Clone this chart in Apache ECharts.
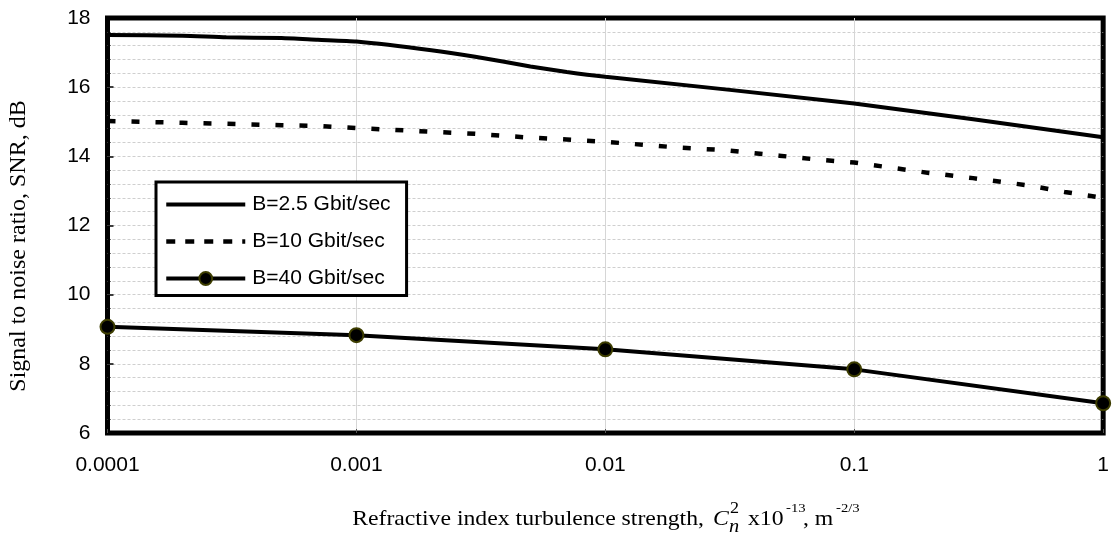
<!DOCTYPE html>
<html>
<head>
<meta charset="utf-8">
<script src="https://cdn.jsdelivr.net/npm/echarts@6/dist/echarts.min.js"></script>
<style>
  html, body { margin: 0; padding: 0; background: #fff; }
  #chart { width: 1112px; height: 539px; }
</style>
</head>
<body>
<div id="chart"></div>
<script>
// Turbulence strength Cn^2 (x10^-13 m^-2/3), log scale
const xTickLabels = ['0.0001', '0.001', '0.01', '0.1', '1'];

// B = 2.5 Gbit/sec
const x25 = [0.0001, 0.0002, 0.0003, 0.0005, 0.0007, 0.001, 0.002, 0.003, 0.005, 0.007, 0.01, 0.1, 1];
const snr25 = [17.51, 17.49, 17.44, 17.42, 17.37, 17.32, 17.07, 16.88, 16.60, 16.44, 16.30, 15.53, 14.55];

// B = 10 Gbit/sec
const x10 = [0.0001, 0.0002, 0.0003, 0.0005, 0.0007, 0.001, 0.002, 0.003, 0.005, 0.007,
             0.01, 0.02, 0.03, 0.05, 0.07, 0.1, 0.2, 0.3, 0.5, 0.7, 1];
const snr10 = [15.02, 14.97, 14.94, 14.90, 14.88, 14.82, 14.71, 14.65, 14.54, 14.49,
               14.42, 14.25, 14.18, 14.02, 13.91, 13.82, 13.52, 13.37, 13.16, 12.97, 12.80];

// B = 40 Gbit/sec
const x40 = [0.0001, 0.001, 0.01, 0.1, 1];
const snr40 = [9.07, 8.83, 8.42, 7.84, 6.86];

const seriesNames = ['B=2.5 Gbit/sec', 'B=10 Gbit/sec', 'B=40 Gbit/sec'];

const pairs = (xs, ys) => xs.map((x, i) => [x, ys[i]]);

const sans = '"Liberation Sans", Arial, sans-serif';
const serif = '"Liberation Serif", "Times New Roman", serif';
const noMarker = { color: 'rgba(0,0,0,0)', borderWidth: 0 };
const gridLine = { color: '#cfcfcf', width: 1, type: [3, 2] };

// pieces of the x-axis title, widened slightly
function xt(text, x, y, size, italic) {
  return {
    type: 'text', x: x, y: y, scaleX: 1.13,
    style: { text: text, font: (italic ? 'italic ' : '') + size + 'px ' + serif, fill: '#000',
             align: 'left', verticalAlign: 'middle' }
  };
}

const chart = echarts.init(document.getElementById('chart'), null, { renderer: 'canvas' });

chart.setOption({
  animation: false,
  backgroundColor: '#ffffff',
  grid: {
    left: 107.5, right: 2.5, top: 18, bottom: 106,
    show: true, borderColor: '#000', borderWidth: 5, backgroundColor: 'transparent'
  },
  legend: {
    orient: 'vertical',
    left: 156, top: 182,
    padding: [12, 16, 6.5, 8],
    itemWidth: 79, itemHeight: 16, itemGap: 16,
    backgroundColor: '#fff',
    borderColor: '#000', borderWidth: 3,
    textStyle: { fontFamily: sans, fontSize: 21, color: '#000', padding: [0, 0, 0, 2] },
    data: [
      { name: seriesNames[0], itemStyle: noMarker, lineStyle: { width: 4 } },
      { name: seriesNames[1], itemStyle: noMarker, lineStyle: { width: 4.5, type: [9, 10] } },
      { name: seriesNames[2], lineStyle: { width: 4 } }
    ]
  },
  xAxis: {
    type: 'log', logBase: 10, min: 0.0001, max: 1,
    axisLine: { show: false },
    axisTick: { show: true, inside: true, length: 4, lineStyle: { color: '#555' } },
    axisLabel: {
      margin: 22, fontFamily: sans, fontSize: 21, color: '#000',
      formatter: (v, i) => xTickLabels[i]
    },
    splitLine: { show: true, showMinLine: false, showMaxLine: false,
                 lineStyle: { color: '#d6d6d6', width: 1 } }
  },
  yAxis: {
    type: 'value', min: 6, max: 18, interval: 2,
    axisLine: { show: false },
    axisTick: { show: true, inside: true, length: 6, lineStyle: { color: '#000', width: 1.5 } },
    minorTick: { show: true, splitNumber: 5, length: 3, lineStyle: { color: '#000' } },
    axisLabel: { margin: 17, fontFamily: sans, fontSize: 21, color: '#000' },
    splitLine: { show: true, showMinLine: false, showMaxLine: false, lineStyle: gridLine },
    minorSplitLine: { show: true, lineStyle: gridLine }
  },
  series: [
    {
      name: seriesNames[0], type: 'line', data: pairs(x25, snr25),
      symbol: 'none', smooth: 0.2,
      lineStyle: { color: '#000', width: 4 },
      itemStyle: { color: '#000' }
    },
    {
      name: seriesNames[1], type: 'line', data: pairs(x10, snr10),
      symbol: 'none',
      lineStyle: { color: '#000', width: 4.5, type: [8, 16], cap: 'butt' },
      itemStyle: { color: '#000' }
    },
    {
      name: seriesNames[2], type: 'line', data: pairs(x40, snr40),
      symbol: 'circle', symbolSize: 14, clip: false,
      lineStyle: { color: '#000', width: 4 },
      itemStyle: { color: '#000', borderColor: '#3d3d00', borderWidth: 2 }
    }
  ],
  graphic: [
    {
      type: 'text', x: 19, y: 246, rotation: Math.PI / 2,
      style: { text: 'Signal to noise ratio, SNR, dB', font: '24px ' + serif, fill: '#000',
               align: 'center', verticalAlign: 'middle' }
    },
    {
      type: 'text', x: 704, y: 519, scaleX: 1.13,
      style: { text: 'Refractive index turbulence strength,', font: '21px ' + serif, fill: '#000',
               align: 'right', verticalAlign: 'middle' }
    },
    xt('C', 713, 519, 21, true),
    xt('2', 730, 509, 16, false),
    xt('n', 729, 527, 18, true),
    xt('x10', 748, 519, 21, false),
    xt('-13', 786, 509, 13, false),
    xt(', m', 803, 519, 21, false),
    xt('-2/3', 836, 509, 13, false)
  ]
});
</script>
</body>
</html>
